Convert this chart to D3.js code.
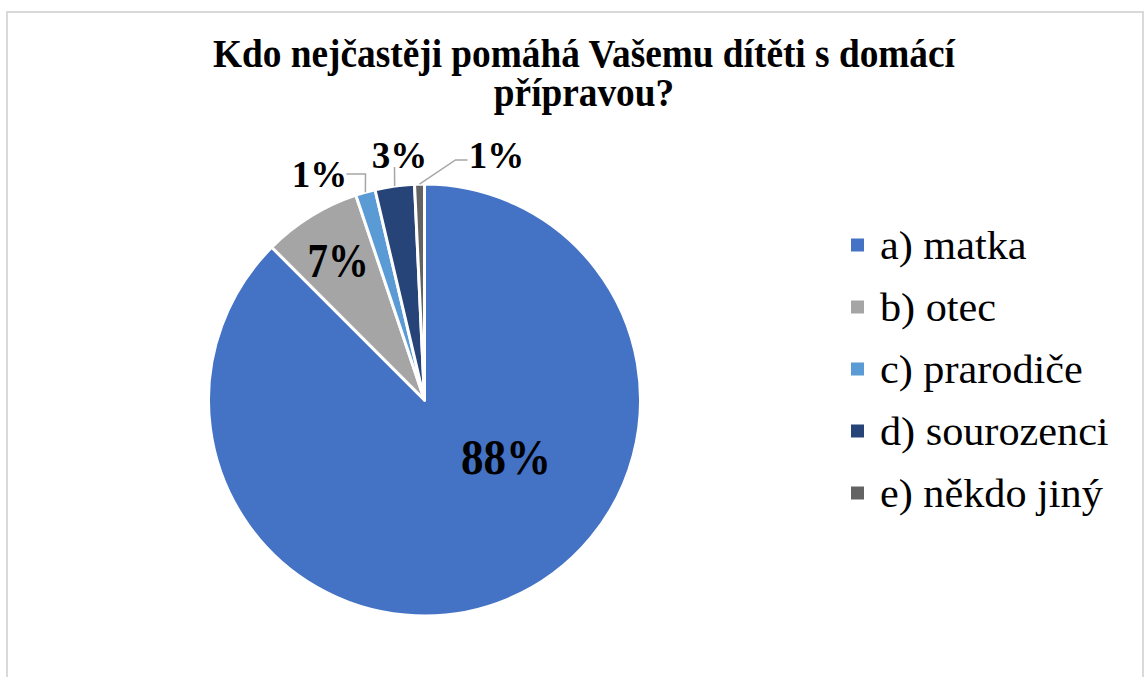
<!DOCTYPE html>
<html>
<head>
<meta charset="utf-8">
<script src="https://cdn.jsdelivr.net/npm/d3@7"></script>
<style>
  body { margin: 0; background: #fff; }
  text { font-family: "Liberation Serif", "Times New Roman", serif; }
</style>
</head>
<body>
<div id="chart"></div>
<script>
const titleLines = ['Kdo nejčastěji pomáhá Vašemu dítěti s domácí', 'přípravou?']
const categories = ['a) matka', 'b) otec', 'c) prarodiče', 'd) sourozenci', 'e) někdo jiný']
const counts = [119, 10, 2, 4, 1]
const colors = ['#4472C4', '#A5A5A5', '#5B9BD5', '#264478', '#636363']

const width = 1145
const height = 677
const cx = 424.5, cy = 400, radius = 216

const svg = d3.select('#chart').append('svg')
    .attr('width', width)
    .attr('height', height)

// chart border
svg.append('rect')
    .attr('x', 7).attr('y', 12)
    .attr('width', 1136).attr('height', 700)
    .attr('fill', 'none')
    .attr('stroke', '#d9d9d9')
    .attr('stroke-width', 2)

// title
svg.append('g').selectAll('text')
    .data(titleLines)
    .enter().append('text')
      .attr('transform', (d, i) => `translate(584,${67 + i * 39}) scale(0.91,1)`)
      .attr('text-anchor', 'middle')
      .attr('font-size', 41)
      .attr('font-weight', 'bold')
      .text(d => d)

const total = d3.sum(counts)
const rows = categories.map((c, i) => ({ name: c, value: counts[i], color: colors[i] }))

const pie = d3.pie().sort(null).value(d => d.value)
const arcs = pie(rows)
const arc = d3.arc().innerRadius(0).outerRadius(radius)

const g = svg.append('g').attr('transform', `translate(${cx},${cy})`)

g.selectAll('path')
  .data(arcs)
  .enter().append('path')
    .attr('d', arc)
    .attr('fill', d => d.data.color)
    .attr('stroke', '#fff')
    .attr('stroke-width', 3)
    .attr('stroke-linejoin', 'round')

const pct = d => Math.round(d.value / total * 100) + '%'
const polar = (a, r) => [r * Math.sin(a), -r * Math.cos(a)]

// labels inside slices (angle in degrees, radius fraction)
const inside = {
  'a) matka': { angle: 125, r: 0.46, size: 50, sx: 0.9 },
  'b) otec': { angle: null, r: 0.76, size: 48, sx: 0.85 }
}
// labels outside with leader lines: elbow point and label offset
const outside = {
  'c) prarodiče': { elbow: [-59, -226], end: [-78, -226], label: [-105, -226] },
  'd) sourozenci': { elbow: [-30, -233], end: [-30, -233], label: [-25, -245] },
  'e) někdo jiný': { elbow: [31, -240], end: [43, -240], label: [72, -245] }
}

arcs.forEach(d => {
  const mid = (d.startAngle + d.endAngle) / 2
  const ins = inside[d.data.name]
  if (ins) {
    const a = ins.angle == null ? mid : ins.angle * Math.PI / 180
    const [x, y] = polar(a, radius * ins.r)
    g.append('text')
      .attr('transform', `translate(${x},${y}) scale(${ins.sx},1)`)
      .attr('text-anchor', 'middle')
      .attr('dy', '0.34em')
      .attr('font-size', ins.size)
      .attr('font-weight', 'bold')
      .text(pct(d.data))
    return
  }
  const o = outside[d.data.name]
  const p0 = polar(mid, radius)
  g.append('polyline')
    .attr('points', [p0, o.elbow, o.end].map(p => p.join(',')).join(' '))
    .attr('fill', 'none')
    .attr('stroke', '#a6a6a6')
    .attr('stroke-width', 1.5)
  g.append('text')
    .attr('x', o.label[0])
    .attr('y', o.label[1])
    .attr('text-anchor', 'middle')
    .attr('dy', '0.34em')
    .attr('font-size', 37)
    .attr('font-weight', 'bold')
    .text(pct(d.data))
})

// legend
const legend = svg.append('g')
  .selectAll('g')
  .data(rows)
  .enter().append('g')
    .attr('transform', (d, i) => `translate(851,${245 + i * 62})`)

legend.append('rect')
    .attr('x', 0).attr('y', -6.5)
    .attr('width', 13).attr('height', 13)
    .attr('fill', d => d.color)

legend.append('text')
    .attr('transform', 'translate(29,0) scale(1.03,1)')
    .attr('dy', '0.34em')
    .attr('font-size', 41)
    .text(d => d.name)
</script>
</body>
</html>
